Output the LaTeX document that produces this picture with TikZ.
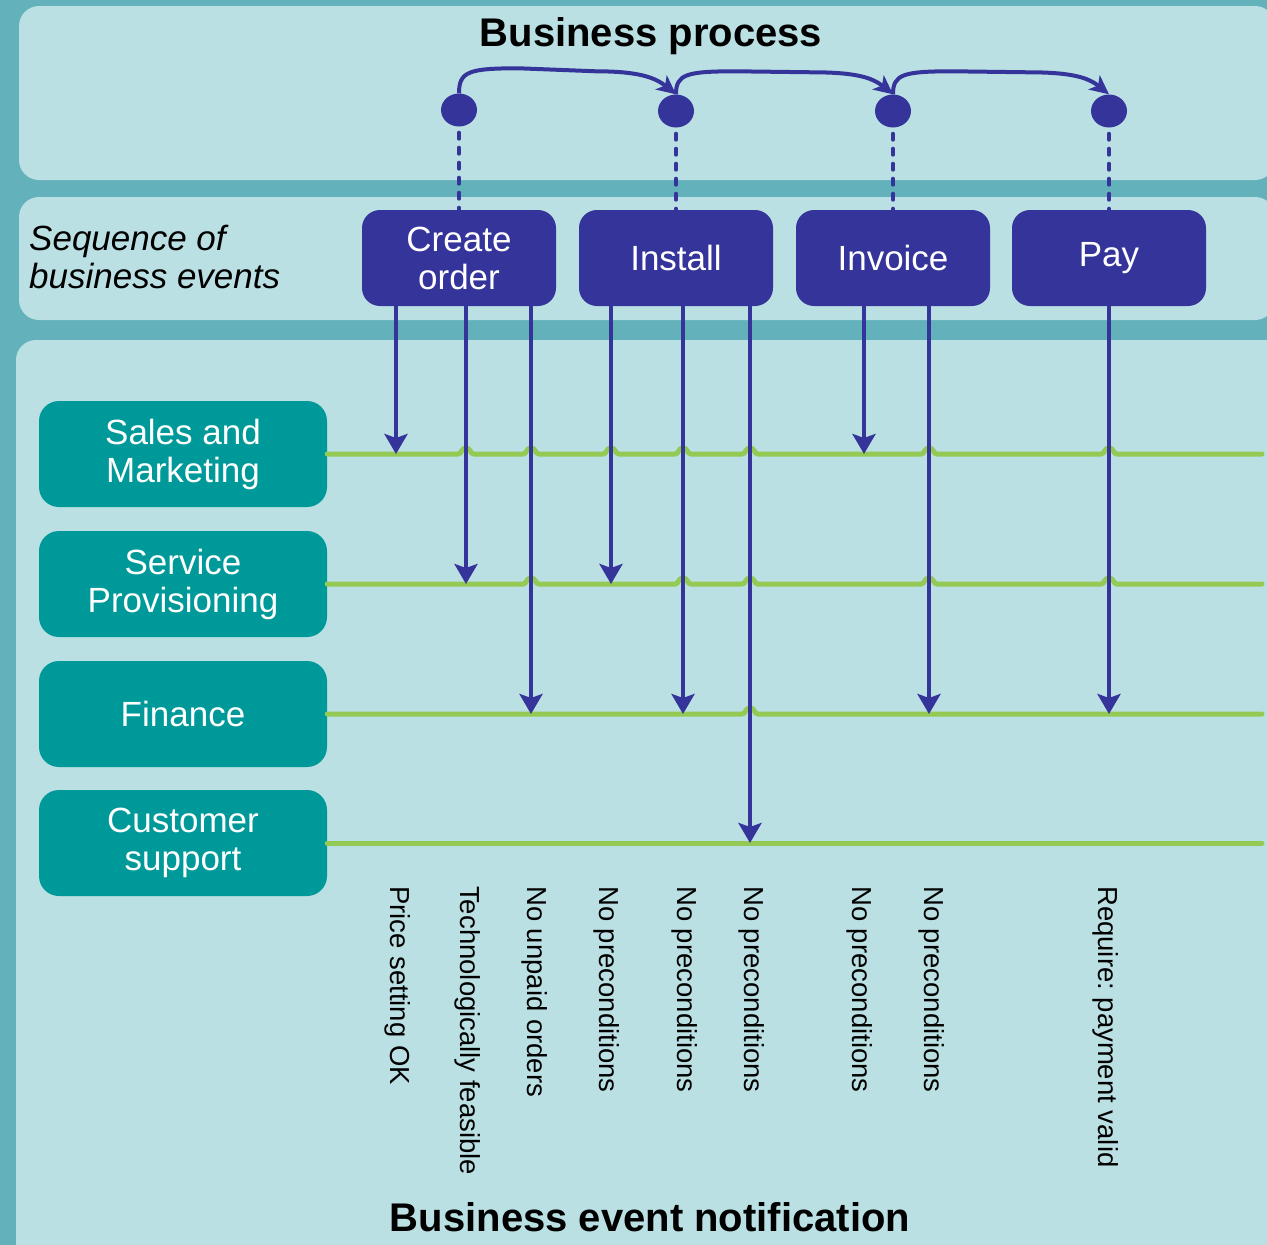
\documentclass[tikz,border=0pt]{standalone}
\usepackage{fontspec}
\setmainfont{Liberation Sans}
\usetikzlibrary{arrows.meta,calc,shapes.geometric}
\definecolor{outerbg}{HTML}{63B1BB}
\definecolor{panelbg}{HTML}{BAE0E3}
\definecolor{navy}{HTML}{35349A}
\definecolor{tealbox}{HTML}{009999}
\definecolor{lime}{HTML}{94C953}
\frenchspacing
\begin{document}
\begin{tikzpicture}[x=1pt,y=-1pt,
  evbox/.style={fill=navy, rounded corners=18pt, minimum width=194pt, minimum height=96pt,
    text=white, align=center, inner sep=0pt, font=\fontsize{35}{38}\selectfont},
  lanebox/.style={fill=tealbox, rounded corners=20pt, minimum width=288pt, minimum height=106pt,
    text=white, align=center, inner sep=0pt, font=\fontsize{35}{38}\selectfont},
  evdot/.style={ellipse, fill=navy, minimum width=36pt, minimum height=33pt, inner sep=0pt},
  flow/.style={draw=navy, line width=4pt, -{Stealth[length=20pt,width=23pt,inset=4pt]}},
  seqarrow/.style={draw=navy, line width=4pt, -{Stealth[length=19pt,width=18pt,inset=5pt]}},
  linkline/.style={draw=navy, line width=4pt, dash pattern=on 6pt off 9pt, line cap=round},
  laneline/.style={draw=lime, line width=5pt, line cap=round},
  cond/.style={rotate=-90, anchor=west, inner sep=0pt, font=\fontsize{27.5}{30}\selectfont},
  titletext/.style={font=\bfseries\fontsize{40}{44}\selectfont}
]
\useasboundingbox (0,0) rectangle (1267,1245);
\fill[outerbg] (0,0) rectangle (1267,1245);
\clip (0,0) rectangle (1267,1245);
\fill[panelbg, rounded corners=20pt] (19,6) rectangle (1275,180);
\fill[panelbg, rounded corners=20pt] (19,197) rectangle (1275,320);
\fill[panelbg, rounded corners=20pt] (16,340) rectangle (1290,1280);

\node[titletext] (bp) at (651,36) {Business process};
\node[titletext] (ben) at (650,1217) {Business event notification};

\node[anchor=west, align=left, inner sep=0pt, font=\itshape\fontsize{35}{38}\selectfont] (seqlbl) at (29,257) {Sequence of\\business events};

% events
\node[evbox] (e1) at (459,258) {Create\\order};
\node[evbox] (e2) at (676,258) {Install};
\node[evbox] (e3) at (893,258) {Invoice};
\node[evbox] (e4) at (1109,258) {Pay};

\node[evdot] (c1) at (459,110) {};
\node[evdot] (c2) at (676,111) {};
\node[evdot] (c3) at (893,111) {};
\node[evdot] (c4) at (1109,111) {};

\foreach \i in {1,...,4} { \draw[linkline] (c\i.south) ++(0,6) -- (e\i.north); }

\draw[seqarrow] (c1.north) .. controls +(0,-22) and +(-50,0) .. ($(c1.north)+(60,-25)$)
  -- ($(c2.north)+(-80,-23)$) .. controls +(45,0) and +(-20,-16) .. (c2.north);
\draw[seqarrow] (c2.north) .. controls +(0,-20) and +(-50,0) .. ($(c2.north)+(60,-23)$)
  -- ($(c3.north)+(-80,-22)$) .. controls +(45,0) and +(-20,-16) .. (c3.north);
\draw[seqarrow] (c3.north) .. controls +(0,-20) and +(-50,0) .. ($(c3.north)+(60,-23)$)
  -- ($(c4.north)+(-80,-22)$) .. controls +(45,0) and +(-20,-16) .. (c4.north);

% lanes
\node[lanebox] (l1) at (183,454) {Sales and\\Marketing};
\node[lanebox] (l2) at (183,584) {Service\\Provisioning};
\node[lanebox] (l3) at (183,714) {Finance};
\node[lanebox] (l4) at (183,843) {Customer\\support};

\coordinate (r1) at (1262,454);
\coordinate (r2) at (1262,584);
\coordinate (r3) at (1262,714);
\coordinate (r4) at (1262,843);

\draw[laneline] (l1.east) \foreach \hx in {466,531,611,683,750,929,1109} {
  -- (\hx-8,454) .. controls (\hx-4,454) and (\hx-5,448) .. (\hx,448)
  .. controls (\hx+5,448) and (\hx+4,454) .. (\hx+8,454) } -- (r1);
\draw[laneline] (l2.east) \foreach \hx in {531,683,750,929,1109} {
  -- (\hx-8,584) .. controls (\hx-4,584) and (\hx-5,578) .. (\hx,578)
  .. controls (\hx+5,578) and (\hx+4,584) .. (\hx+8,584) } -- (r2);
\draw[laneline] (l3.east) \foreach \hx in {750} {
  -- (\hx-8,714) .. controls (\hx-4,714) and (\hx-5,708) .. (\hx,708)
  .. controls (\hx+5,708) and (\hx+4,714) .. (\hx+8,714) } -- (r3);
\draw[laneline] (l4.east) -- (r4);

% notification arrows
\coordinate (a1) at (396,454);
\coordinate (a2) at (466,584);
\coordinate (a3) at (531,714);
\coordinate (a4) at (611,584);
\coordinate (a5) at (683,714);
\coordinate (a6) at (750,843);
\coordinate (a7) at (864,454);
\coordinate (a8) at (929,714);
\coordinate (a9) at (1109,714);
\draw[flow] (e1.south -| a1) -- (a1);
\draw[flow] (e1.south -| a2) -- (a2);
\draw[flow] (e1.south -| a3) -- (a3);
\draw[flow] (e2.south -| a4) -- (a4);
\draw[flow] (e2.south -| a5) -- (a5);
\draw[flow] (e2.south -| a6) -- (a6);
\draw[flow] (e3.south -| a7) -- (a7);
\draw[flow] (e3.south -| a8) -- (a8);
\draw[flow] (e4.south -| a9) -- (a9);

% conditions
\node[cond] (n1) at (398,886) {Price setting OK};
\node[cond] (n2) at (468,886) {Technologically feasible};
\node[cond] (n3) at (535,886) {No unpaid orders};
\node[cond] (n4) at (607,886) {No preconditions};
\node[cond] (n5) at (685,886) {No preconditions};
\node[cond] (n6) at (752,886) {No preconditions};
\node[cond] (n7) at (860,886) {No preconditions};
\node[cond] (n8) at (932,886) {No preconditions};
\node[cond] (n9) at (1106,886) {Require: payment valid};
\end{tikzpicture}
\end{document}
